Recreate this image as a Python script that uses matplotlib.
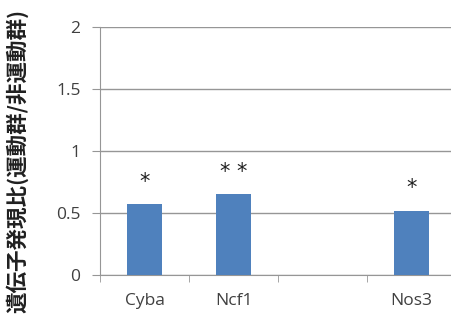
import numpy as np
import matplotlib.pyplot as plt

# data
categories = ['Cyba', 'Ncf1', '', 'Nos3']
ratios = [0.57, 0.65, np.nan, 0.52]
marks = ['*', '* *', '', '*']
y_ticks = [0, 0.5, 1, 1.5, 2]
y_tick_labels = ['0', '0.5', '1', '1.5', '2']

bar_color = '#4F81BD'
grid_color = '#969696'
text_color = '#404040'

fig = plt.figure(figsize=(4.52, 3.2), dpi=100)
ax = fig.add_axes([0.2212, 0.1406, 0.788, 0.775])

x = np.arange(len(categories))
ax.bar(x, ratios, width=0.4, color=bar_color, zorder=3)

# significance markers above the bars
for xi, v, m in zip(x, ratios, marks):
    if m:
        ax.text(xi, v + 0.1, m, ha='center', va='bottom', fontsize=15,
                color='#202020', family='DejaVu Sans')

ax.set_xlim(-0.5, len(categories) - 0.5)
ax.set_ylim(0, 2)

ax.set_yticks(y_ticks)
ax.set_yticklabels(y_tick_labels)
ax.yaxis.grid(True, color=grid_color, linewidth=1, zorder=0)

ax.set_xticks(x)
ax.set_xticklabels(categories)
ax.set_xticks(np.arange(-0.5, len(categories)), minor=True)
ax.tick_params(axis='x', which='major', length=0, pad=13)
ax.tick_params(axis='x', which='minor', length=5, direction='out', color=grid_color)
ax.tick_params(axis='y', length=6, direction='out', color=grid_color, pad=8)

for lab in ax.get_xticklabels() + ax.get_yticklabels():
    lab.set_fontsize(12.5)
    lab.set_color(text_color)
    lab.set_family(['Open Sans', 'DejaVu Sans'])

for side in ['top', 'right']:
    ax.spines[side].set_visible(False)
ax.spines['left'].set_color(grid_color)
ax.spines['bottom'].set_color(grid_color)

ax.set_ylabel('遺伝子発現比(運動群/非運動群)', fontsize=15.5, fontweight='bold',
              family=['Noto Sans CJK JP', 'DejaVu Sans'], color='#202020')
ax.yaxis.set_label_coords(-0.2, 0.46)

fig.savefig('out.png', dpi=100)
